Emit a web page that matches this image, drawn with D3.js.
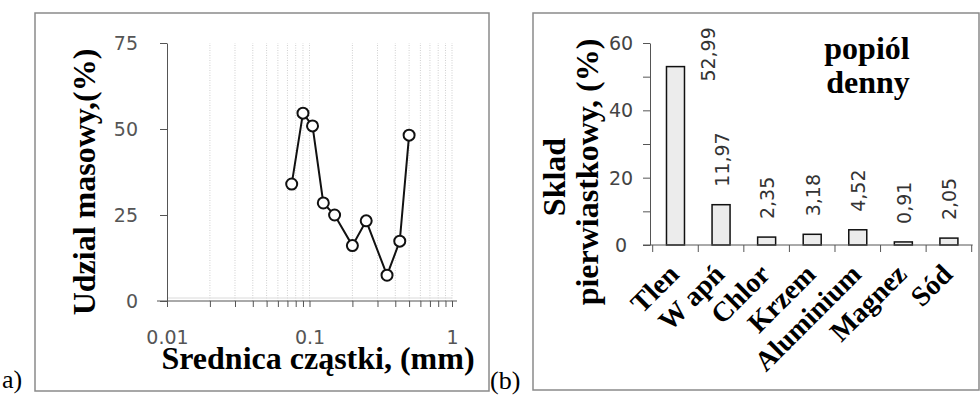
<!DOCTYPE html>
<html><head><meta charset="utf-8">
<script src="https://cdn.jsdelivr.net/npm/d3@7"></script>
<style>body{margin:0;background:#fff}svg{display:block}</style>
</head><body>
<svg id="c" width="980" height="395"></svg>
<script>
// ---- Data: panel a) particle size distribution ----
const diameters = [0.075, 0.09, 0.105, 0.125, 0.15, 0.2, 0.25, 0.35, 0.43, 0.5];
const massShare = [34.0, 54.6, 50.9, 28.5, 25.0, 16.1, 23.3, 7.5, 17.4, 48.2];
const xTickLabelsA = [0.01, 0.1, 1];
const yTicksA = [0, 25, 50, 75];

// ---- Data: panel (b) elemental composition ----
const elements = ["Tlen", "W apń", "Chlor", "Krzem", "Aluminium", "Magnez", "Sód"];
const composition = [52.99, 11.97, 2.35, 3.18, 4.52, 0.91, 2.05];
const yTicksB = [0, 20, 40, 60];

const svg = d3.select("#c");
const serif = "'Liberation Serif','Times New Roman',serif";
const sans = "'DejaVu Sans',Verdana,sans-serif";

// frames
svg.append("rect").attr("x",35).attr("y",13).attr("width",454).attr("height",378)
  .attr("fill","#fff").attr("stroke","#8a8a8a").attr("stroke-width",1.5);
svg.append("rect").attr("x",533).attr("y",13).attr("width",446).attr("height",377)
  .attr("fill","#fff").attr("stroke","#8a8a8a").attr("stroke-width",1.5);

svg.append("text").attr("x",2).attr("y",388).attr("font-family",serif).attr("font-size",26).text("a)");
svg.append("text").attr("x",490).attr("y",389).attr("font-family",serif).attr("font-size",26).text("(b)");

// ===== Panel a =====
const xA = d3.scaleLog().domain([0.01, 1]).range([167, 452]);
const yA = d3.scaleLinear().domain([0, 75]).range([301, 43]);
const gA = svg.append("g");

const minorA = [];
[0.01, 0.1].forEach(d => { for (let k = 1; k <= 9; k++) minorA.push(+(d*k).toPrecision(2)); });
minorA.push(1);

gA.append("g").selectAll("line").data(minorA.filter(v => v > 0.01)).join("line")
  .attr("x1", d => xA(d)).attr("x2", d => xA(d)).attr("y1", yA(0)).attr("y2", yA(75))
  .attr("stroke", "#cfcfcf").attr("stroke-width", 1).attr("stroke-dasharray", "1,1.5");
gA.append("line").attr("x1", 167).attr("x2", 452).attr("y1", yA(0)-3).attr("y2", yA(0)-3)
  .attr("stroke", "#dadada").attr("stroke-width", 1);

const axA = gA.append("g").attr("transform", `translate(0,${yA(0)})`)
  .call(d3.axisBottom(xA).tickValues(minorA).tickSize(6).tickPadding(24).tickSizeOuter(0)
    .tickFormat(d => String(d)));
axA.select(".domain").remove();
axA.append("line").attr("x1", 157).attr("x2", 457).attr("stroke", "#555");
axA.selectAll(".tick line").attr("stroke", "#555");
axA.selectAll(".tick text").filter(d => !xTickLabelsA.includes(d)).remove();
axA.selectAll("text").attr("font-family", sans).attr("font-size", 19).attr("fill", "#555");

const ayA = gA.append("g").attr("transform", `translate(167,0)`)
  .call(d3.axisLeft(yA).tickValues(yTicksA).tickSize(7).tickPadding(22).tickSizeOuter(0));
ayA.select(".domain").attr("stroke", "#555");
ayA.selectAll(".tick line").attr("stroke", "#555");
ayA.selectAll("text").attr("font-family", sans).attr("font-size", 19).attr("fill", "#555");

const pts = diameters.map((d, i) => [d, massShare[i]]);
gA.append("path").datum(pts)
  .attr("d", d3.line().x(d => xA(d[0])).y(d => yA(d[1])))
  .attr("fill", "none").attr("stroke", "#111").attr("stroke-width", 2);
gA.selectAll("circle").data(pts).join("circle")
  .attr("cx", d => xA(d[0])).attr("cy", d => yA(d[1])).attr("r", 5.5)
  .attr("fill", "#fff").attr("stroke", "#111").attr("stroke-width", 2);

gA.append("text").attr("transform", "translate(95,182) rotate(-90)")
  .attr("text-anchor", "middle").attr("font-family", serif).attr("font-weight", "bold")
  .attr("font-size", 32).text("Udzial masowy,(%)");
gA.append("text").attr("x", 318).attr("y", 369)
  .attr("text-anchor", "middle").attr("font-family", serif).attr("font-weight", "bold")
  .attr("font-size", 32).text("Srednica cząstki, (mm)");

// ===== Panel b =====
const xB = d3.scaleBand().domain(elements).range([652.7, 971.7]).padding(0);
const yB = d3.scaleLinear().domain([0, 60]).range([245, 43]);
const gB = svg.append("g");
const locale = d3.formatLocale({decimal: ",", thousands: " ", grouping: [3], currency: ["", ""]});
const fmt = locale.format(".2f");

const barW = 18;
gB.selectAll("rect.bar").data(composition).join("rect").attr("class", "bar")
  .attr("x", (d, i) => xB(elements[i]) + xB.bandwidth()/2 - barW/2)
  .attr("y", d => yB(d)).attr("width", barW).attr("height", d => yB(0) - yB(d))
  .attr("fill", "#ececec").attr("stroke", "#111").attr("stroke-width", 1.5);

// y axis
const ayB = gB.append("g").attr("transform", "translate(650,0)")
  .call(d3.axisLeft(yB).tickValues(d3.range(0, 61, 10)).tickSize(7).tickFormat("").tickSizeOuter(0));
ayB.select(".domain").attr("stroke", "#555");
ayB.selectAll(".tick line").attr("stroke", "#555");
gB.selectAll("text.yl").data(yTicksB).join("text").attr("class", "yl")
  .attr("x", 621).attr("y", d => yB(d)).attr("dy", "0.36em").attr("text-anchor", "middle")
  .attr("font-family", sans).attr("font-size", 19).attr("fill", "#444").text(d => d);

// x axis
gB.append("line").attr("x1", 643).attr("x2", 972.7).attr("y1", yB(0)).attr("y2", yB(0)).attr("stroke", "#555");
const bounds = elements.map(e => xB(e)).concat([xB.range()[1]]);
gB.selectAll("line.xt").data(bounds).join("line").attr("class", "xt")
  .attr("x1", d => d).attr("x2", d => d).attr("y1", yB(0)).attr("y2", yB(0) + 7).attr("stroke", "#555");

// category labels
gB.selectAll("text.cat").data(elements).join("text").attr("class", "cat")
  .attr("transform", d => `translate(${xB(d) + xB.bandwidth()/2 + 5},${276}) rotate(-45)`)
  .attr("text-anchor", "end").attr("font-family", serif).attr("font-weight", "bold")
  .attr("font-size", 28).text(d => d);

// value labels
gB.selectAll("text.val").data(composition).join("text").attr("class", "val")
  .attr("transform", (d, i) => {
    const cx = xB(elements[i]) + xB.bandwidth()/2;
    const top = yB(d);
    if (top - 18 - 60 < 20) return `translate(${cx + 40},${top + 15}) rotate(-90)`;
    return `translate(${cx + 7.5},${top - 18}) rotate(-90)`;
  })
  .attr("text-anchor", "start").attr("font-family", sans).attr("font-size", 19).attr("fill", "#333")
  .text(d => fmt(d));

// titles
gB.append("text").attr("transform", "translate(565,177) rotate(-90)").attr("text-anchor", "middle")
  .attr("font-family", serif).attr("font-weight", "bold").attr("font-size", 32).text("Sklad");
gB.append("text").attr("transform", "translate(598,172) rotate(-90)").attr("text-anchor", "middle")
  .attr("font-family", serif).attr("font-weight", "bold").attr("font-size", 32).text("pierwiastkowy, (%)");
gB.append("text").attr("x", 867).attr("y", 59).attr("text-anchor", "middle")
  .attr("font-family", serif).attr("font-weight", "bold").attr("font-size", 32).text("popiól");
gB.append("text").attr("x", 868).attr("y", 93).attr("text-anchor", "middle")
  .attr("font-family", serif).attr("font-weight", "bold").attr("font-size", 32).text("denny");
</script>
</body></html>
